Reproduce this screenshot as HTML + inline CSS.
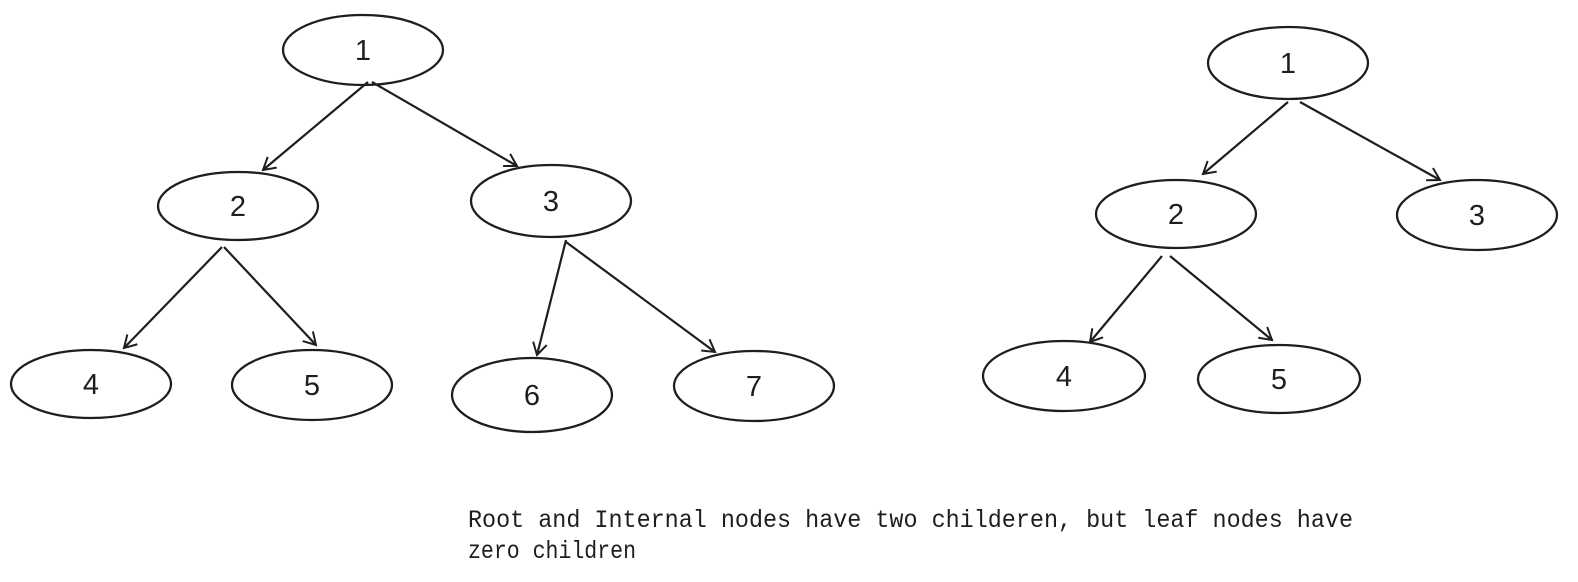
<!DOCTYPE html>
<html><head><meta charset="utf-8"><style>
html,body{margin:0;padding:0;background:#fff;}
svg{display:block}
</style></head><body>
<svg width="1578" height="582" viewBox="0 0 1578 582" xmlns="http://www.w3.org/2000/svg">
<defs><marker id="a" markerWidth="16" markerHeight="16" refX="13" refY="8" orient="auto" markerUnits="userSpaceOnUse">
<path d="M1,1 L13,8 L1,15" fill="none" stroke="#1e1e1e" stroke-width="2"/></marker></defs>
<g fill="none" stroke="#1e1e1e" stroke-width="2.3">
<ellipse cx="363" cy="50" rx="80" ry="35"/>
<ellipse cx="238" cy="206" rx="80" ry="34"/>
<ellipse cx="551" cy="201" rx="80" ry="36"/>
<ellipse cx="91" cy="384" rx="80" ry="34"/>
<ellipse cx="312" cy="385" rx="80" ry="35"/>
<ellipse cx="532" cy="395" rx="80" ry="37"/>
<ellipse cx="754" cy="386" rx="80" ry="35"/>
<ellipse cx="1288" cy="63" rx="80" ry="36"/>
<ellipse cx="1176" cy="214" rx="80" ry="34"/>
<ellipse cx="1477" cy="215" rx="80" ry="35"/>
<ellipse cx="1064" cy="376" rx="81" ry="35"/>
<ellipse cx="1279" cy="379" rx="81" ry="34"/>
</g>
<g stroke="#1e1e1e" stroke-width="2.2" marker-end="url(#a)">
<line x1="368" y1="82" x2="263" y2="170"/>
<line x1="372" y1="82" x2="517" y2="166"/>
<line x1="222" y1="247" x2="124" y2="348"/>
<line x1="224" y1="247" x2="316" y2="345"/>
<line x1="566" y1="240" x2="537" y2="355"/>
<line x1="566" y1="242" x2="715" y2="352"/>
<line x1="1288" y1="102" x2="1203" y2="174"/>
<line x1="1300" y1="102" x2="1440" y2="180"/>
<line x1="1162" y1="256" x2="1090" y2="342"/>
<line x1="1170" y1="256" x2="1272" y2="340"/>
</g>
<g font-family="Liberation Sans, sans-serif" font-size="29" fill="#1e1e1e" text-anchor="middle">
<text x="363" y="60">1</text><text x="238" y="216">2</text><text x="551" y="211">3</text>
<text x="91" y="394">4</text><text x="312" y="395">5</text><text x="532" y="405">6</text><text x="754" y="396">7</text>
<text x="1288" y="73">1</text><text x="1176" y="224">2</text><text x="1477" y="225">3</text>
<text x="1064" y="386">4</text><text x="1279" y="389">5</text>
</g>
<g font-family="Liberation Mono, monospace" font-size="25" fill="#1e1e1e">
<text x="468" y="527" textLength="885" lengthAdjust="spacingAndGlyphs">Root and Internal nodes have two childeren, but leaf nodes have</text>
<text x="468" y="558" textLength="168" lengthAdjust="spacingAndGlyphs">zero children</text>
</g>
</svg>
</body></html>
